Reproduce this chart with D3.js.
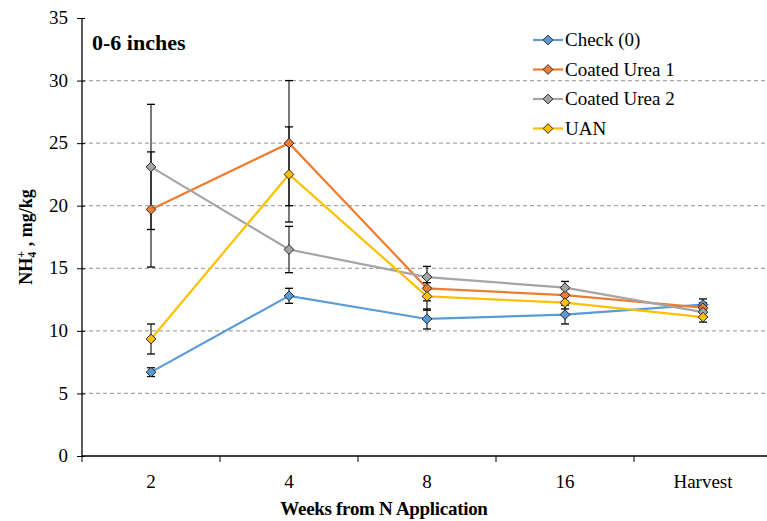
<!DOCTYPE html>
<html>
<head>
    <meta charset="utf-8">
    <title>NH4 0-6 inches</title>
    <script src="https://d3js.org/d3.v7.min.js"></script>
    <style>
        body { margin: 0; background: #fff; }
        svg text { fill: #000; }
    </style>
</head>
<body>
    <svg id="chart" width="767" height="521"></svg>
    <script>
        // data
        const categories = ["2", "4", "8", "16", "Harvest"]
        const seriesNames = ["Check (0)", "Coated Urea 1", "Coated Urea 2", "UAN"]
        const seriesColors = ["#5B9BD5", "#ED7D31", "#A5A5A5", "#FFC000"]
        const check = [6.7, 12.8, 10.95, 11.3, 12.1]
        const checkErr = [0.35, 0.6, 0.8, 0.75, 0.45]
        const urea1 = [19.7, 25.0, 13.4, 12.85, 11.85]
        const urea1Err = [4.6, 5.0, 1.0, 0.5, 0.4]
        const urea2 = [23.1, 16.5, 14.3, 13.45, 11.5]
        const urea2Err = [5.0, 1.85, 0.85, 0.5, 0.4]
        const uan = [9.35, 22.5, 12.75, 12.25, 11.1]
        const uanErr = [1.2, 3.8, 1.1, 0.5, 0.4]
        const yTicks = [0, 5, 10, 15, 20, 25, 30, 35]
        const gridTicks = [5, 10, 15, 20, 25, 30]

        const series = [
            { name: seriesNames[0], color: seriesColors[0], values: check, errs: checkErr },
            { name: seriesNames[1], color: seriesColors[1], values: urea1, errs: urea1Err },
            { name: seriesNames[2], color: seriesColors[2], values: urea2, errs: urea2Err },
            { name: seriesNames[3], color: seriesColors[3], values: uan, errs: uanErr }
        ]

        const serif = "'Liberation Serif', 'Times New Roman', Times, Tinos, 'Noto Serif', 'Nimbus Roman', 'DejaVu Serif', serif"
        const svg = d3.select("#chart").attr("font-family", serif)
        const plotLeft = 82, plotTop = 18, plotBottom = 456, plotRight = 772

        const x = d3.scaleBand().domain(categories).range([plotLeft, plotRight])
        const y = d3.scaleLinear().domain([0, 35]).range([plotBottom, plotTop])
        const cx = c => x(c) + x.bandwidth() / 2

        // gridlines
        svg.append("g").selectAll("line")
            .data(gridTicks)
            .enter().append("line")
            .attr("x1", plotLeft).attr("x2", 767)
            .attr("y1", d => y(d)).attr("y2", d => y(d))
            .attr("stroke", "#a6a6a6")
            .attr("stroke-width", 1.2)
            .attr("stroke-dasharray", "4,3")

        // y axis
        const yAxis = d3.axisLeft(y).tickValues(yTicks).tickSize(5).tickPadding(9)
        const gy = svg.append("g").attr("transform", `translate(${plotLeft},0)`).call(yAxis)
        gy.attr("font-family", serif)
        gy.select(".domain").remove()
        gy.selectAll(".tick line").attr("x2", -5).attr("x1", 3).attr("stroke", "#000")
        gy.selectAll(".tick text").style("font-size", "19px").attr("dy", "0.3em")
        svg.append("line")
            .attr("x1", plotLeft).attr("x2", plotLeft).attr("y1", plotTop).attr("y2", plotBottom)
            .attr("stroke", "#000").attr("stroke-width", 1.3)

        // x axis
        const xAxis = d3.axisBottom(x).tickSize(0).tickPadding(19)
        const gx = svg.append("g").attr("transform", `translate(0,${plotBottom})`).call(xAxis)
        gx.attr("font-family", serif)
        gx.select(".domain").remove()
        gx.selectAll(".tick text").style("font-size", "19px")
        svg.append("line")
            .attr("x1", plotLeft).attr("x2", 767).attr("y1", plotBottom).attr("y2", plotBottom)
            .attr("stroke", "#000").attr("stroke-width", 1.3)
        svg.append("g").selectAll("line")
            .data(categories)
            .enter().append("line")
            .attr("x1", d => x(d)).attr("x2", d => x(d))
            .attr("y1", plotBottom).attr("y2", plotBottom + 6)
            .attr("stroke", "#000")

        // lines
        const line = d3.line()
            .x((d, i) => cx(categories[i]))
            .y(d => y(d))
        svg.append("g").selectAll("path")
            .data(series)
            .enter().append("path")
            .attr("d", s => line(s.values))
            .attr("fill", "none")
            .attr("stroke", s => s.color)
            .attr("stroke-width", 2.2)

        // error bars
        const eg = svg.append("g")
        series.forEach(s => {
            s.values.forEach((v, i) => {
                const px = cx(categories[i])
                const e = s.errs[i]
                eg.append("line")
                    .attr("x1", px).attr("x2", px)
                    .attr("y1", y(v + e)).attr("y2", y(v - e))
                    .attr("stroke", "#000").attr("stroke-width", 1.3).attr("stroke-opacity", 0.8)
                ;[v + e, v - e].forEach(t => {
                    eg.append("line")
                        .attr("x1", px - 4).attr("x2", px + 4)
                        .attr("y1", y(t)).attr("y2", y(t))
                        .attr("stroke", "#000").attr("stroke-width", 1.3)
                })
            })
        })

        // markers
        const diamond = d3.symbol().type(d3.symbolDiamond2).size(60)
        series.forEach(s => {
            svg.append("g").selectAll("path")
                .data(s.values)
                .enter().append("path")
                .attr("d", diamond)
                .attr("transform", (d, i) => `translate(${cx(categories[i])},${y(d)})`)
                .attr("fill", s.color)
                .attr("stroke", "#262626")
                .attr("stroke-width", 1)
        })

        // title
        svg.append("text")
            .attr("x", 92).attr("y", 50)
            .style("font-size", "22px").style("font-weight", "bold")
            .text("0-6 inches")

        // legend
        const lg = svg.append("g")
        series.forEach((s, i) => {
            const ly = 40 + i * 29.5
            lg.append("line")
                .attr("x1", 533).attr("x2", 563).attr("y1", ly).attr("y2", ly)
                .attr("stroke", s.color).attr("stroke-width", 2.2)
            lg.append("path")
                .attr("d", diamond)
                .attr("transform", `translate(548,${ly})`)
                .attr("fill", s.color).attr("stroke", "#262626").attr("stroke-width", 1)
            lg.append("text")
                .attr("x", 565).attr("y", ly + 6)
                .style("font-size", "19px")
                .text(s.name)
        })

        // axis titles
        svg.append("text")
            .attr("x", 384).attr("y", 515)
            .attr("text-anchor", "middle")
            .style("font-size", "19px").style("font-weight", "bold")
            .style("letter-spacing", "-0.3px")
            .text("Weeks from N Application")

        const yl = svg.append("text")
            .attr("transform", "translate(32,237) rotate(-90)")
            .attr("text-anchor", "middle")
            .style("font-size", "18px").style("font-weight", "bold")
        yl.append("tspan").text("NH")
        yl.append("tspan").attr("dy", 4).style("font-size", "12px").text("4")
        yl.append("tspan").attr("dy", -11).attr("dx", -6).style("font-size", "12px").text("+")
        yl.append("tspan").attr("dy", 7).text(" , mg/kg")
    </script>
</body>
</html>
